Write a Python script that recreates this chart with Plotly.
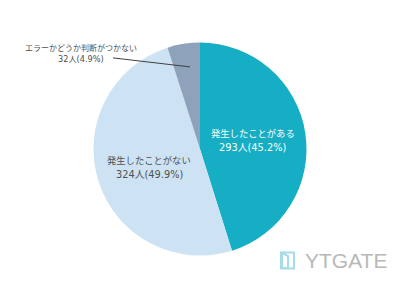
import plotly.graph_objects as go

labels = ["発生したことがある", "発生したことがない", "エラーかどうか判断がつかない"]
counts = [293, 324, 32]
percents = [45.2, 49.9, 4.9]
colors = ["#15AEC5", "#CDE3F4", "#8FA2BB"]

fig = go.Figure(go.Pie(
    labels=labels, values=counts, sort=False, direction="clockwise", rotation=0,
    marker=dict(colors=colors, line=dict(width=0)),
    textinfo="none", hoverinfo="skip", showlegend=False,
    domain=dict(x=[0.2335, 0.7665], y=[0.148, 0.858]),
))

font_jp = "Noto Sans CJK JP, Noto Sans, sans-serif"
font_num = "DejaVu Sans, Noto Sans CJK JP, sans-serif"

def put(x, y, text, family, size, color):
    fig.add_annotation(x=x / 400, y=1 - y / 300, xref="paper", yref="paper", text=text,
                       showarrow=False, font=dict(family=family, size=size, color=color),
                       xanchor="center", yanchor="middle")

# label positions in pixels: (center x, line1 y, line2 y, size1, size2, color)
label_pos = [(253, 133, 147, 9.3, 9.8, "white"),
             (149, 160, 174, 9.3, 9.8, "#505050"),
             (81, 47, 59, 8, 8.2, "#505050")]
for i, (cx, y1, y2, s1, s2, col) in enumerate(label_pos):
    put(cx, y1, labels[i], font_jp, s1, col)
    put(cx, y2, f"{counts[i]}人({percents[i]}%)", font_num, s2, col)

fig.add_shape(type="line", xref="paper", yref="paper", x0=0.2825, y0=0.807, x1=0.475, y1=0.777,
              line=dict(color="#404040", width=1))

# logo
fig.add_annotation(x=303/400, y=1-260.5/300, xref="paper", yref="paper", text="YTGATE",
                   showarrow=False, font=dict(family="Liberation Sans, Arial, sans-serif", size=21, color="#B8B8B8"),
                   xanchor="left", yanchor="middle")
fig.add_shape(type="rect", xref="paper", yref="paper", x0=281/400, x1=294/400, y0=1-268.5/300, y1=1-252.5/300,
              line=dict(color="#A5DCE8", width=2))
fig.add_shape(type="path", xref="paper", yref="paper",
              path=f"M {282/400},{1-253/300} L {288/400},{1-256/300} L {288/400},{1-268/300} L {282/400},{1-268/300} Z",
              line=dict(color="#A5DCE8", width=2))

fig.update_layout(width=400, height=300, margin=dict(l=0, r=0, t=0, b=0),
                  paper_bgcolor="white", plot_bgcolor="white")
fig.write_html("out.html")
